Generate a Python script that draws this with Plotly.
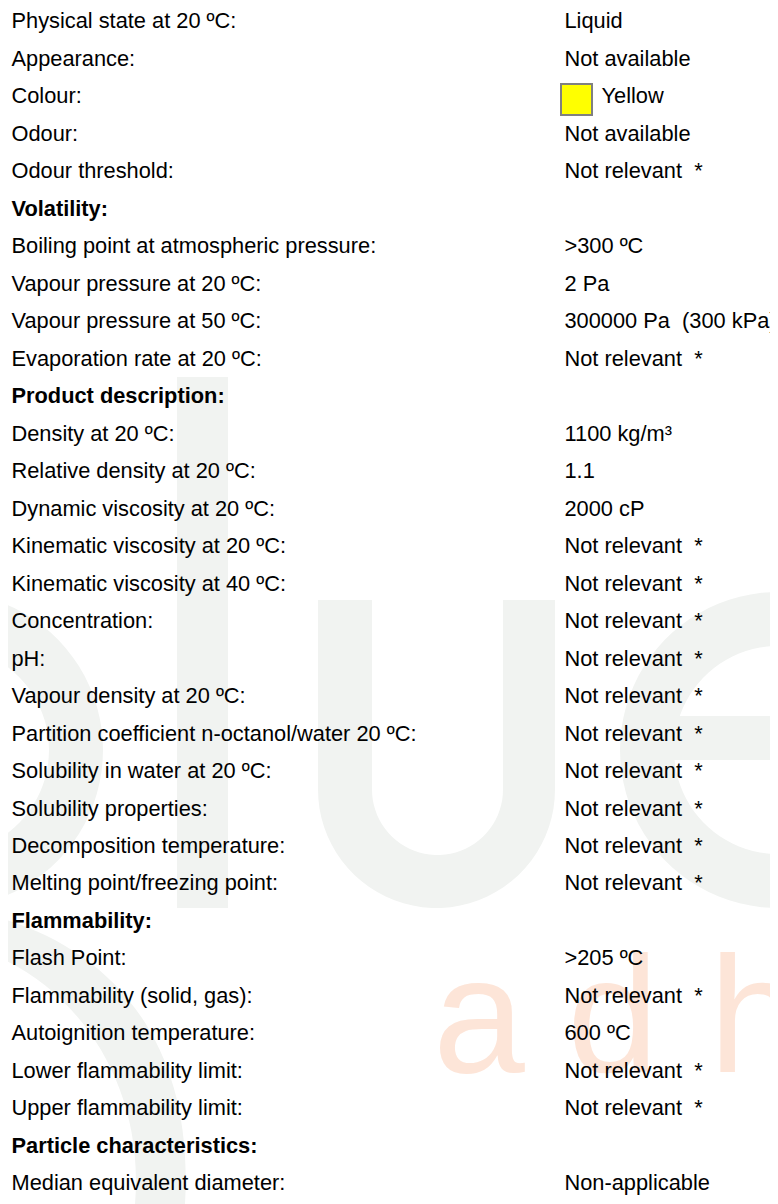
import numpy as np
import plotly.graph_objects as go

# ---------------- data ----------------
labels = [
    "Physical state at 20 ºC:", "Appearance:", "Colour:", "Odour:", "Odour threshold:",
    "Volatility:",
    "Boiling point at atmospheric pressure:", "Vapour pressure at 20 ºC:",
    "Vapour pressure at 50 ºC:", "Evaporation rate at 20 ºC:",
    "Product description:",
    "Density at 20 ºC:", "Relative density at 20 ºC:", "Dynamic viscosity at 20 ºC:",
    "Kinematic viscosity at 20 ºC:", "Kinematic viscosity at 40 ºC:", "Concentration:",
    "pH:", "Vapour density at 20 ºC:", "Partition coefficient n-octanol/water 20 ºC:",
    "Solubility in water at 20 ºC:", "Solubility properties:", "Decomposition temperature:",
    "Melting point/freezing point:",
    "Flammability:",
    "Flash Point:", "Flammability (solid, gas):", "Autoignition temperature:",
    "Lower flammability limit:", "Upper flammability limit:",
    "Particle characteristics:",
    "Median equivalent diameter:",
]
NR = "Not relevant\u00a0\u00a0*"
values = [
    "Liquid", "Not available", "Yellow", "Not available", NR,
    "",
    ">300 ºC", "2 Pa", "300000 Pa\u00a0\u00a0(300 kPa)", NR,
    "",
    "1100 kg/m³", "1.1", "2000 cP", NR, NR, NR, NR, NR, NR, NR, NR, NR, NR,
    "",
    ">205 ºC", NR, "600 ºC", NR, NR,
    "",
    "Non-applicable",
]
section_headers = ["Volatility:", "Product description:", "Flammability:", "Particle characteristics:"]
colour_name = "Yellow"
colour_hex = "#ffff00"
watermark_letters = ["a", "d", "h"]

# ---------------- layout helpers ----------------
PAGE_W, PAGE_H = 778, 1204
OFF = 8                       # default page body margin
W, H = PAGE_W - OFF, PAGE_H - OFF
ROW0, STEP = 23.0, 37.48
LABEL_X, VALUE_X, SWATCH_X, SWATCH_TEXT_X = 11.5, 564.5, 576.5, 601.5
FONT = "Liberation Sans, Arial, sans-serif"
FS = 21.8
GRAY = "#f1f3f1"
ORANGE = "#fde5d8"

def prow(py):
    return (py - ROW0) / STEP

def pt(x, y):
    return f"{x:.1f},{1 - (y - OFF) / H:.5f}"

def circle_path(cx, cy, r, reverse=False, n=90):
    a = np.linspace(0, 2 * np.pi, n, endpoint=False)
    if reverse:
        a = a[::-1]
    pts = [pt(cx + r * np.cos(t), cy + r * np.sin(t)) for t in a]
    return "M" + " L".join(pts) + " Z"

def arc_pts(cx, cy, r, a0, a1, n=40):
    a = np.radians(np.linspace(a0, a1, n))
    return [pt(cx + r * np.cos(t), cy + r * np.sin(t)) for t in a]

shapes = []
def add_path(path, color):
    shapes.append(dict(type="path", path=path, xref="x", yref="paper",
                       fillcolor=color, line=dict(width=0), layer="below"))

# "b" bowl (left edge)
add_path(circle_path(-55, 750, 158) + " " + circle_path(-55, 750, 104, reverse=True), GRAY)
# "l"
add_path(f"M{pt(177,377)} L{pt(228,377)} L{pt(228,908)} L{pt(177,908)} Z", GRAY)
# "u"
cyu = 908 - 118.5
outer = arc_pts(436.5, cyu, 118.5, 180, 0)
inner = arc_pts(437.5, cyu, 65.5, 0, 180)
upath = ("M" + pt(318, 600) + " L" + " L".join(outer) + " L" + pt(555, 600) + " L" + pt(503, 600)
         + " L" + " L".join(inner) + " L" + pt(372, 600) + " Z")
add_path(upath, GRAY)
# "e" (left half visible)
add_path(circle_path(778, 750, 158) + " " + circle_path(778, 750, 104, reverse=True), GRAY)
add_path(f"M{pt(670,716)} L{pt(790,716)} L{pt(790,760)} L{pt(670,760)} Z", GRAY)
# crescent lower-left
add_path("M" + pt(0, 918) + " C" + pt(105, 948) + " " + pt(195, 1035) + " " + pt(185, 1204)
         + " L" + pt(135, 1204) + " C" + pt(145, 1085) + " " + pt(78, 992) + " " + pt(0, 958) + " Z", GRAY)

fig = go.Figure()

# watermark "adh"
fig.add_trace(go.Scatter(
    x=[433, 567, 709], y=[prow(1031)] * 3, mode="text", text=watermark_letters,
    textposition="middle right", textfont=dict(family=FONT, size=165, color=ORANGE),
    hoverinfo="skip", cliponaxis=True))

# labels
rows = list(range(len(labels)))
label_text = [f"<b>{l}</b>" if l in section_headers else l for l in labels]
fig.add_trace(go.Scatter(
    x=[LABEL_X] * len(labels), y=rows, mode="text", text=label_text,
    textposition="middle right", textfont=dict(family=FONT, size=FS, color="#000000"),
    hoverinfo="skip"))

# values
vx = [SWATCH_TEXT_X if v == colour_name else VALUE_X for v in values]
fig.add_trace(go.Scatter(
    x=vx, y=rows, mode="text", text=values,
    textposition="middle right", textfont=dict(family=FONT, size=FS, color="#000000"),
    hoverinfo="skip", cliponaxis=False))

# colour swatch
ci = values.index(colour_name)
fig.add_trace(go.Scatter(
    x=[SWATCH_X], y=[ci + 0.04], mode="markers",
    marker=dict(symbol="square", size=31, color=colour_hex,
                line=dict(color="#808080", width=2)),
    hoverinfo="skip"))

fig.update_layout(
    width=W, height=H, autosize=False,
    margin=dict(l=0, r=0, t=0, b=0),
    paper_bgcolor="white", plot_bgcolor="white",
    showlegend=False, shapes=shapes,
    xaxis=dict(range=[OFF, PAGE_W], visible=False, fixedrange=True),
    yaxis=dict(range=[prow(PAGE_H), prow(OFF)], visible=False, fixedrange=True),
)
fig.write_html("out.html")
